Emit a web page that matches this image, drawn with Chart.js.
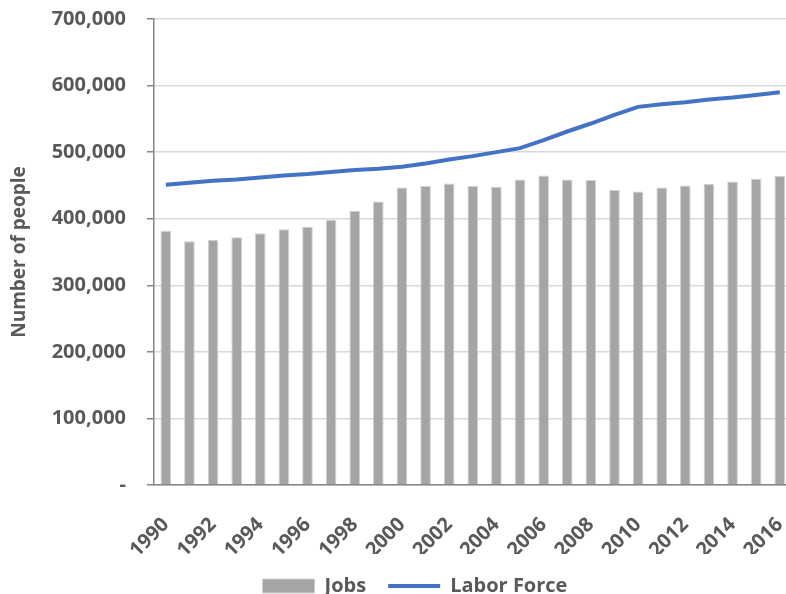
<!DOCTYPE html>
<html>
<head>
<meta charset="utf-8">
<script src="https://cdn.jsdelivr.net/npm/chart.js@4"></script>
<style>
  html, body { margin: 0; padding: 0; background: #fff; overflow: hidden; }
  #wrap { width: 830px; height: 594px; }
</style>
</head>
<body>
<div id="wrap"><canvas id="jobsChart" width="830" height="594"></canvas></div>
<script>
// chart data
const years = ['1990', '1991', '1992', '1993', '1994', '1995', '1996', '1997', '1998', '1999',
  '2000', '2001', '2002', '2003', '2004', '2005', '2006', '2007', '2008', '2009',
  '2010', '2011', '2012', '2013', '2014', '2015', '2016'];
const jobs = [382000, 366000, 368000, 372000, 378000, 384000, 388000, 398000, 412000, 426000,
  447000, 449000, 453000, 449000, 448000, 459000, 465000, 459000, 458000, 443000,
  441000, 447000, 450000, 452000, 456000, 460000, 464000];
const laborForce = [451000, 454000, 457000, 459000, 462000, 465000, 467000, 470000, 473000, 475000,
  478000, 483000, 489000, 494000, 500000, 506000, 518000, 531000, 543000, 556000,
  568000, 572000, 575000, 579000, 582000, 586000, 590000];
const yTicks = [0, 100000, 200000, 300000, 400000, 500000, 600000, 700000];

const textGrey = '#595959';
const font = { family: 'Open Sans', size: 20, weight: 'bold' };

let ctx = document.getElementById('jobsChart').getContext('2d');
new Chart(ctx, {
  type: 'bar',
  data: {
    labels: years,
    datasets: [{
      type: 'line',
      label: 'Labor Force',
      data: laborForce,
      borderColor: '#4472c4',
      backgroundColor: '#4472c4',
      borderWidth: 4,
      pointRadius: 0,
      pointStyle: 'line',
      tension: 0,
      order: 0
    }, {
      label: 'Jobs',
      data: jobs,
      backgroundColor: '#a5a5a5',
      borderColor: '#d0d0d0',
      borderWidth: 1,
      barPercentage: 0.45,
      categoryPercentage: 1,
      pointStyle: 'rect',
      order: 1
    }]
  },
  options: {
    responsive: false,
    animation: false,
    layout: { padding: { top: 0, left: 0, right: 0, bottom: -12 } },
    plugins: {
      tooltip: { enabled: false },
      legend: {
        position: 'bottom',
        reverse: true,
        labels: {
          usePointStyle: true,
          pointStyleWidth: 52,
          boxHeight: 14,
          padding: 22,
          color: textGrey,
          font: font
        }
      }
    },
    scales: {
      x: {
        grid: { display: false },
        border: { display: true, color: '#868686', width: 1.5 },
        ticks: {
          autoSkip: false,
          maxRotation: 45,
          minRotation: 45,
          padding: 20,
          color: textGrey,
          font: font,
          callback: function (value, index) {
            return index % 2 === 0 ? years[index] : '';
          }
        },
        afterFit: function (scale) { scale.height = 69; }
      },
      y: {
        min: 0,
        max: 700000,
        afterBuildTicks: function (scale) {
          scale.ticks = yTicks.map(v => ({ value: v }));
        },
        grid: { color: '#d9d9d9', lineWidth: 1.5, tickColor: '#868686', tickLength: 7 },
        border: { display: true, color: '#868686', width: 1.5 },
        ticks: {
          padding: 21,
          color: textGrey,
          font: font,
          callback: function (value) {
            return value === 0 ? '-' : value.toLocaleString('en-US');
          }
        },
        title: {
          display: true,
          text: 'Number of people',
          color: textGrey,
          font: { family: 'Open Sans', size: 19, weight: 'bold' },
          padding: { top: 8, bottom: 0 }
        },
        afterFit: function (scale) {
          scale.width = 154;
          scale.paddingTop = 19;
          scale.paddingBottom = 12;
        }
      },
      yRight: {
        position: 'right',
        grid: { display: false },
        border: { display: false },
        ticks: { display: false },
        afterFit: function (scale) { scale.width = 38.4; }
      }
    }
  }
});
</script>
</body>
</html>
